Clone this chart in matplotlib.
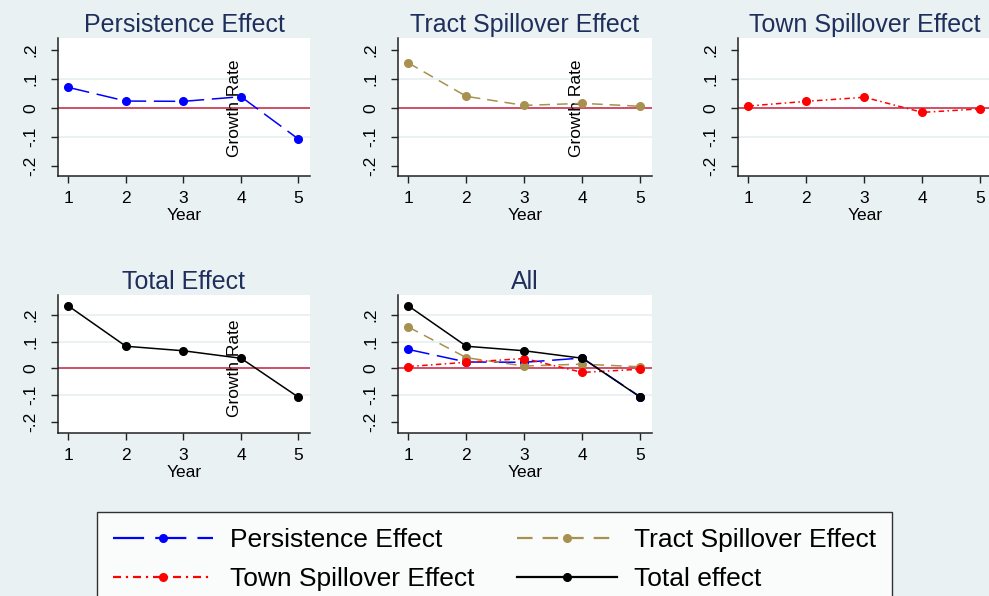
import matplotlib
matplotlib.use('Agg')
import matplotlib.pyplot as plt
from matplotlib.lines import Line2D

plt.rcParams['font.family'] = ['Liberation Sans', 'DejaVu Sans']

# data
years = [1, 2, 3, 4, 5]
persistence = [0.071, 0.024, 0.023, 0.039, -0.107]
tract = [0.155, 0.040, 0.009, 0.016, 0.006]
town = [0.007, 0.023, 0.037, -0.015, -0.003]
total = [0.234, 0.083, 0.066, 0.038, -0.108]
yticks = [-0.2, -0.1, 0, 0.1, 0.2]
ytick_labels = ['-.2', '-.1', '0', '.1', '.2']

BG = '#eaf1f3'
GRID = '#e6eff1'
TITLE_C = '#1f2f5c'
ZERO_C = '#c41e3f'

styles = {
    'Persistence Effect': dict(color='#0000ff', dashes=(14, 5)),
    'Tract Spillover Effect': dict(color='#a8904f', dashes=(7, 4.5)),
    'Town Spillover Effect': dict(color='#ff0000', dashes=(3.6, 2.2, 1, 2.2)),
    'Total effect': dict(color='black', linestyle='-'),
}
series = {
    'Persistence Effect': persistence,
    'Tract Spillover Effect': tract,
    'Town Spillover Effect': town,
    'Total effect': total,
}

W, H = 989, 596
fig = plt.figure(figsize=(W / 100, H / 100), dpi=100, facecolor=BG)


def make_ax(left, top, right, bottom):
    return fig.add_axes([left / W, 1 - bottom / H, (right - left) / W, (bottom - top) / H])


def style_ax(ax, title, ylim, grid_vals, growth=True):
    ax.set_facecolor('white')
    for s in ['top', 'right']:
        ax.spines[s].set_visible(False)
    for s in ['left', 'bottom']:
        ax.spines[s].set_color('#222222')
        ax.spines[s].set_linewidth(1.1)
    ax.set_xlim(0.82, 5.2)
    ax.set_ylim(*ylim)
    ax.set_xticks(years)
    ax.set_yticks(yticks)
    ax.set_yticklabels(ytick_labels, rotation=90, va='center')
    ax.tick_params(axis='both', labelsize=12.5, length=5, width=1, color='#222222', direction='out')
    ax.tick_params(axis='y', pad=9)
    ax.tick_params(axis='x', pad=6)
    for g in grid_vals:
        ax.axhline(g, color=GRID, lw=1.2, zorder=0)
    ax.axhline(0, color=ZERO_C, lw=1.1, zorder=1)
    ax.set_xlabel('Year', fontsize=12.5, labelpad=1.5)
    ax.set_title(title, fontsize=18, color=TITLE_C, pad=4)
    if growth:
        ax.text(4.02, 0.0, 'Growth Rate', rotation=90, ha='right', va='center', fontsize=12.5)


def draw(ax, name):
    st = styles[name]
    line, = ax.plot(years, series[name], marker='o', markersize=5.5, lw=1.1, label=name,
                    zorder=3, **st)
    return line


row1_lim = (-0.234, 0.241)
row2_lim = (-0.242, 0.275)

ax1 = make_ax(58, 38, 310, 176)
style_ax(ax1, 'Persistence Effect', row1_lim, [0.1, -0.1])
draw(ax1, 'Persistence Effect')

ax2 = make_ax(398, 38, 652, 176)
style_ax(ax2, 'Tract Spillover Effect', row1_lim, [0.1, -0.1])
draw(ax2, 'Tract Spillover Effect')

ax3 = make_ax(738, 38, 992, 176)
style_ax(ax3, 'Town Spillover Effect', row1_lim, [0.1, -0.1], growth=False)
draw(ax3, 'Town Spillover Effect')

ax4 = make_ax(58, 295, 310, 433)
style_ax(ax4, 'Total Effect', row2_lim, [0.2, 0.1, -0.1])
draw(ax4, 'Total effect')

ax5 = make_ax(398, 295, 652, 433)
style_ax(ax5, 'All', row2_lim, [0.2, 0.1, -0.1], growth=False)
for name in ['Persistence Effect', 'Tract Spillover Effect', 'Town Spillover Effect', 'Total effect']:
    draw(ax5, name)

# legend: column-wise fill, so order gives Persistence/Tract on top row
order = ['Persistence Effect', 'Town Spillover Effect', 'Tract Spillover Effect', 'Total effect']
leg_handles = []
for name in order:
    st = styles[name]
    leg_handles.append(Line2D([0], [0], marker='o', markersize=5.5, lw=1.6, **st))
leg = fig.legend(leg_handles, order, loc='upper left', bbox_to_anchor=(97 / W, 1 - 512 / H),
                 ncol=2, fontsize=19, frameon=True, fancybox=False, edgecolor='black',
                 handlelength=3.8, handletextpad=0.64, columnspacing=1.6,
                 borderpad=0.6, labelspacing=0.58, borderaxespad=0)
leg.get_frame().set_linewidth(1.0)
leg.get_frame().set_facecolor('white')

fig.savefig('out.png', dpi=100, facecolor=BG)
